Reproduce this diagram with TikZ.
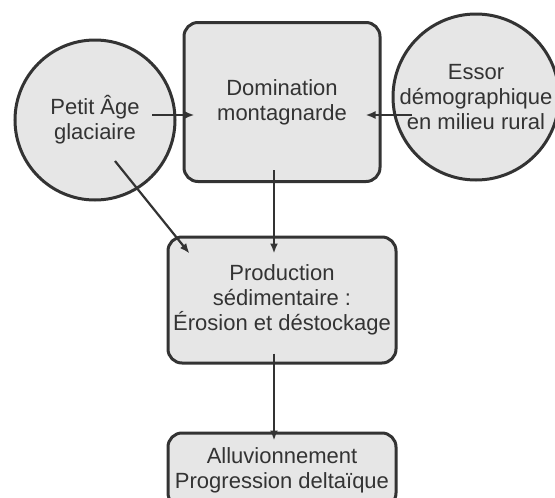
\documentclass[tikz,border=0pt]{standalone}
\usepackage{fontspec}
\setmainfont{Liberation Sans}
\usetikzlibrary{arrows.meta}

\definecolor{boxfill}{HTML}{E6E6E6}
\definecolor{ink}{HTML}{333333}

\begin{document}
\begin{tikzpicture}[x=1pt,y=1pt,
    facteur/.style={circle,draw=ink,line width=3pt,fill=boxfill,text=ink,
      align=center,font=\fontsize{22}{25}\selectfont,inner sep=0pt},
    etape/.style={rectangle,rounded corners=14pt,draw=ink,line width=3pt,fill=boxfill,
      text=ink,align=center,font=\fontsize{22}{25}\selectfont,inner sep=0pt},
    fleche/.style={draw=ink,line width=2.2pt,-{Latex[length=10pt,width=8pt]}}]
    \useasboundingbox (0,0) rectangle (555,-498);
    \fill[white] (0,0) rectangle (555,-498);

    \node[facteur,minimum size=160pt] (page) at (95,-120) {Petit Âge\\glaciaire};
    \node[facteur,minimum size=166pt] (essor) at (476,-97) {Essor\\démographique\\en milieu rural};
    \node[etape,minimum width=196pt,minimum height=159pt] (dom) at (282,-102) {Domination\\montagnarde};
    \node[etape,minimum width=228pt,minimum height=126pt] (prod) at (282,-300)
      {Production\\sédimentaire :\\Érosion et déstockage};
    \node[etape,minimum width=228pt,minimum height=74pt] (alluv) at (282,-470)
      {Alluvionnement\\Progression deltaïque};

    %\draw[fleche] (page) -- (dom);
    \draw[fleche] ([shift={(57,5)}]page.center) -- ([shift={(12,-13)}]dom.west);
    \draw[fleche] ([shift={(-64,-18)}]essor.center) -- ([shift={(-16,-13)}]dom.east);
    \draw[fleche] ([shift={(-8,13)}]dom.south) -- ([shift={(-8,-18)}]prod.north);
    \draw[fleche] ([shift={(20,-41)}]page.center) -- ([shift={(23,-18)}]prod.north west);
    \draw[fleche] ([shift={(-8,11)}]prod.south) -- ([shift={(-8,-9)}]alluv.north);
\end{tikzpicture}
\end{document}
